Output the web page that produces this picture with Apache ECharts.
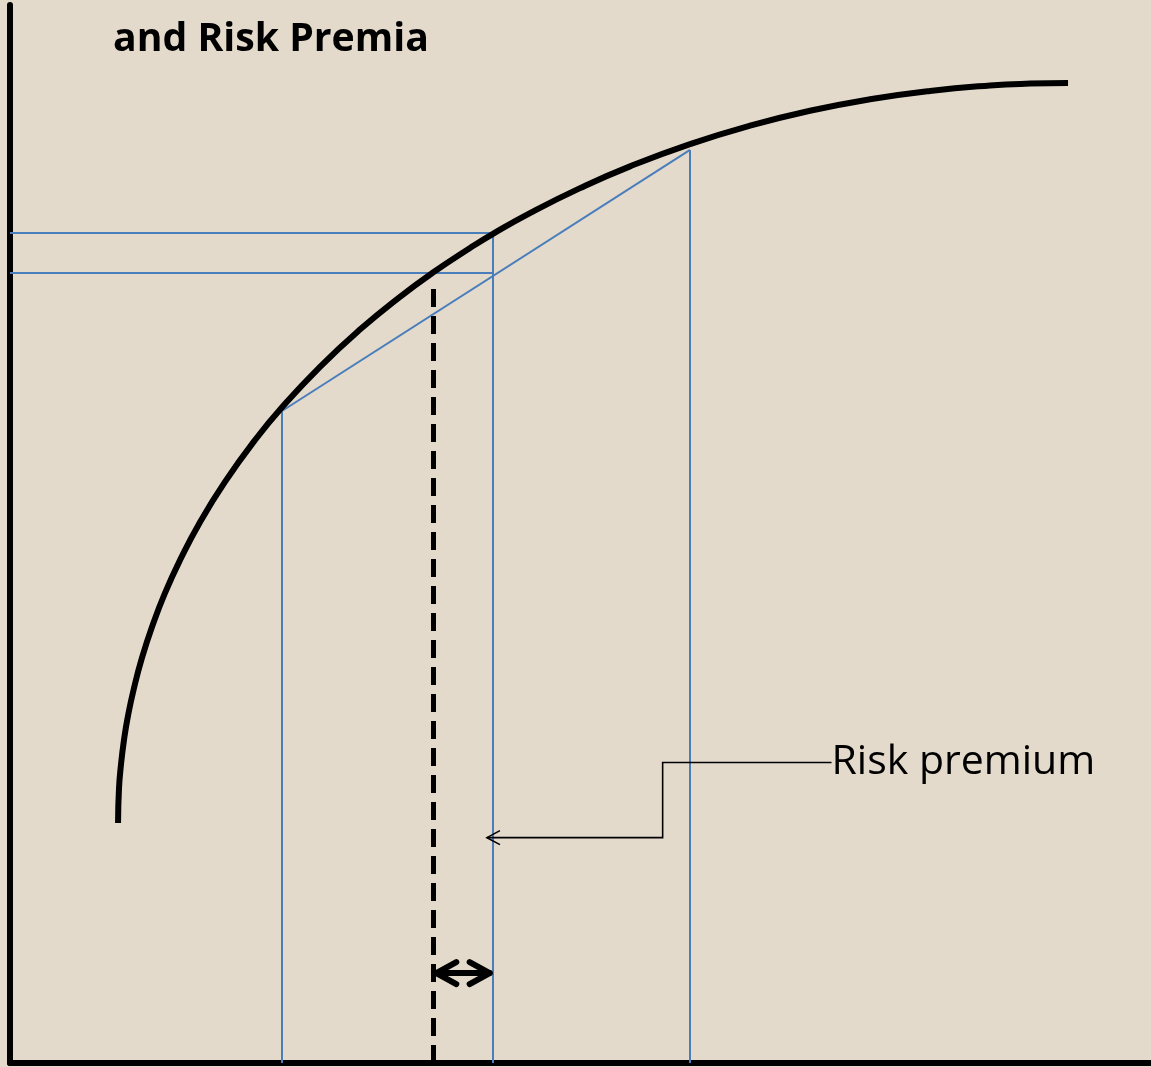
<!DOCTYPE html>
<html><head><meta charset="utf-8">
<script src="https://cdn.jsdelivr.net/npm/echarts@6/dist/echarts.min.js"></script>
<style>html,body{margin:0;padding:0;background:#e3dacc;overflow:hidden}#c{width:1151px;height:1067px}</style>
</head><body><div id="c"></div>
<script>
const titleText = 'and Risk Premia';
const annotationText = 'Risk premium';
// concave utility curve: wealth (x) and utility (y), 0..100 scales
const curveX = [9.47, 9.55, 9.73, 9.99, 10.34, 10.87, 11.57, 12.45, 13.58, 14.90, 16.65, 18.84, 21.47, 23.84, 27.17, 30.67, 34.18, 37.07, 40.32, 42.33, 45.57, 49.96, 54.34, 59.60, 64.86, 70.11, 75.37, 80.63, 85.89, 89.40, 92.73];
const curveY = [22.68, 25.90, 28.24, 30.53, 32.81, 35.46, 38.31, 41.23, 44.41, 47.53, 51.12, 54.93, 58.87, 61.97, 65.80, 69.32, 72.42, 74.71, 77.03, 78.37, 80.33, 82.69, 84.75, 86.85, 88.59, 90.00, 91.09, 91.88, 92.39, 92.57, 92.63];
// key wealth levels
const wealthLow = 23.8, wealthHigh = 59.6, wealthMean = 42.3, certEquiv = 37.1;
// key utility levels
const utilLow = 61.6, utilHigh = 86.3, utilOfMean = 78.5, expUtil = 74.7, ceTop = 74.0;
// double arrow height
const arrowLevel = 8.5;
// callout path (label -> arrow tip)
const calloutX = [72.0, 57.2, 57.2, 41.8];
const calloutY = [28.4, 28.4, 21.3, 21.3];

const BLUE = '#4a7ebb';
const chart = echarts.init(document.getElementById('c'), null, {renderer: 'canvas'});

const blueSegs = [
  [[0, utilOfMean], [wealthMean, utilOfMean]],
  [[0, expUtil], [wealthMean, expUtil]],
  [[wealthLow, 0], [wealthLow, utilLow]],
  [[wealthMean, 0], [wealthMean, utilOfMean]],
  [[wealthHigh, 0], [wealthHigh, utilHigh]],
  [[wealthLow, utilLow], [wealthHigh, utilHigh]]
].map(c => ({coords: c}));

const hiddenAxis = {
  type: 'value', min: 0, max: 100,
  axisLine: {show: true, onZero: false, lineStyle: {color: '#000', width: 6}},
  axisTick: {show: false}, axisLabel: {show: false}, splitLine: {show: false}
};

chart.setOption({
  backgroundColor: '#e3dacc',
  animation: false,
  title: {
    text: titleText, left: 108, top: 15,
    textStyle: {fontFamily: 'Open Sans', fontWeight: 'bold', fontSize: 39.2, color: '#000'}
  },
  grid: {left: 10, right: 0, top: 5, bottom: 4},
  xAxis: Object.assign({}, hiddenAxis),
  yAxis: Object.assign({}, hiddenAxis),
  series: [
    {
      type: 'lines', coordinateSystem: 'cartesian2d', polyline: false, z: 2,
      lineStyle: {color: BLUE, width: 2, opacity: 1},
      data: blueSegs, silent: true
    },
    {
      type: 'lines', coordinateSystem: 'cartesian2d', z: 3,
      lineStyle: {color: '#000', width: 5, type: [18, 9], opacity: 1},
      data: [{coords: [[certEquiv, 0], [certEquiv, ceTop]]}], silent: true
    },
    {
      type: 'line', z: 4, showSymbol: false, smooth: true,
      lineStyle: {color: '#000', width: 6},
      data: curveX.map((x, i) => [x, curveY[i]]), silent: true
    },
    {
      type: 'custom', z: 5, silent: true,
      data: [[certEquiv, arrowLevel, wealthMean]],
      renderItem: function (params, api) {
        const a = api.coord([api.value(0), api.value(1)]);
        const b = api.coord([api.value(2), api.value(1)]);
        const s = {stroke: '#000', lineWidth: 6, fill: null, lineCap: 'round', lineJoin: 'round'};
        return {type: 'group', children: [
          {type: 'line', shape: {x1: a[0] + 3, y1: a[1], x2: b[0] - 3, y2: b[1]}, style: s},
          {type: 'polyline', shape: {points: [[a[0] + 23, a[1] - 11], [a[0] + 3, a[1]], [a[0] + 23, a[1] + 11]]}, style: s},
          {type: 'polyline', shape: {points: [[b[0] - 23, b[1] - 11], [b[0] - 3, b[1]], [b[0] - 23, b[1] + 11]]}, style: s}
        ]};
      }
    },
    {
      type: 'custom', z: 5, silent: true,
      data: [[calloutX[0], calloutY[0]]],
      renderItem: function (params, api) {
        const pts = calloutX.map((x, i) => api.coord([x, calloutY[i]]));
        const tip = pts[pts.length - 1];
        const s = {stroke: '#000', lineWidth: 1.6, fill: null};
        const start = pts[0];
        return {type: 'group', children: [
          {type: 'polyline', shape: {points: pts}, style: s},
          {type: 'polyline', shape: {points: [[tip[0] + 13, tip[1] - 7], tip, [tip[0] + 13, tip[1] + 7]]}, style: s},
          {type: 'text', x: start[0], y: start[1], style: {
            text: annotationText, fontFamily: 'Open Sans', fontSize: 41, fill: '#000',
            align: 'left', verticalAlign: 'middle'
          }}
        ]};
      }
    }
  ]
});
</script></body></html>
